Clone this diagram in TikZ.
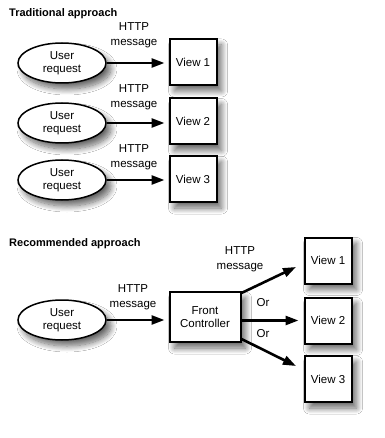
\documentclass[tikz,border=0pt]{standalone}
\usepackage{fontspec}
\setmainfont{Liberation Sans}
\usetikzlibrary{shapes.geometric,arrows.meta,shadows.blur,calc}
\begin{document}
\begin{tikzpicture}[x=1pt,y=-1pt,
  font=\fontsize{11.5}{13}\selectfont,
  shad/.style={blur shadow={shadow xshift=5pt,shadow yshift=-6pt,shadow blur steps=12,shadow blur radius=6pt,shadow opacity=60}},
  user/.style={ellipse,draw,line width=1.5pt,fill=white,minimum width=88pt,minimum height=40pt,inner sep=0pt,align=center,shad},
  viewbox/.style={rectangle,draw,line width=2pt,fill=white,minimum width=47pt,minimum height=46pt,inner sep=0pt,align=center,shad},
  fcbox/.style={rectangle,draw,line width=2pt,fill=white,minimum width=71pt,minimum height=50pt,inner sep=0pt,align=center,shad},
  flow/.style={line width=2.6pt,-{Triangle[length=13pt,width=9pt]}},
  lbl/.style={align=center,inner sep=0pt,font=\fontsize{11.5}{15}\selectfont},
  ttl/.style={anchor=west,inner sep=0pt,font=\bfseries\fontsize{11}{12}\selectfont}]
\useasboundingbox[fill=white] (0,0) rectangle (384,438);

\node[ttl] (t1) at (9,14) {Traditional approach};
\node[ttl] (t2) at (9,244) {Recommended approach};

% traditional
\node[user] (u1) at (62,63) {User\\request};
\node[user] (u2) at (62,123) {User\\request};
\node[user] (u3) at (62,180) {User\\request};
\node[viewbox] (v1) at (193,62) {View 1};
\node[viewbox] (v2) at (193,121.5) {View 2};
\node[viewbox] (v3) at (193,179) {View 3};
\draw[flow,shorten >=4pt] (u1.east) -- (u1.east -| v1.west);
\draw[flow,shorten >=4pt] (u2.east) -- (u2.east -| v2.west);
\draw[flow,shorten >=4pt] (u3.east) -- (u3.east -| v3.west);
\node[lbl] (h1) at (134,35) {HTTP\\message};
\node[lbl] (h2) at (134,97) {HTTP\\message};
\node[lbl] (h3) at (134,157) {HTTP\\message};

% recommended
\node[user] (u4) at (62,320) {User\\request};
\node[fcbox] (fc) at (205,317) {Front\\Controller};
\node[viewbox] (w1) at (328,260.5) {View 1};
\node[viewbox] (w2) at (328,320.5) {View 2};
\node[viewbox] (w3) at (328,379) {View 3};
\draw[flow,shorten >=4pt] (u4.east) -- (u4.east -| fc.west);
\coordinate (e1) at (296,267);
\coordinate (e3) at (296,366);
\draw[flow] ($(fc.north east)+(0,2)$) -- (e1);
\draw[flow,shorten >=5pt] (fc.east |- w2.west) -- (w2.west);
\draw[flow] ($(fc.south east)+(0,-4)$) -- (e3);
\node[lbl] (h4) at (133,297) {HTTP\\message};
\node[lbl] (h5) at (240,259) {HTTP\\message};
\node[lbl] (o1) at (263,303) {Or};
\node[lbl] (o2) at (263,334) {Or};
\end{tikzpicture}
\end{document}
